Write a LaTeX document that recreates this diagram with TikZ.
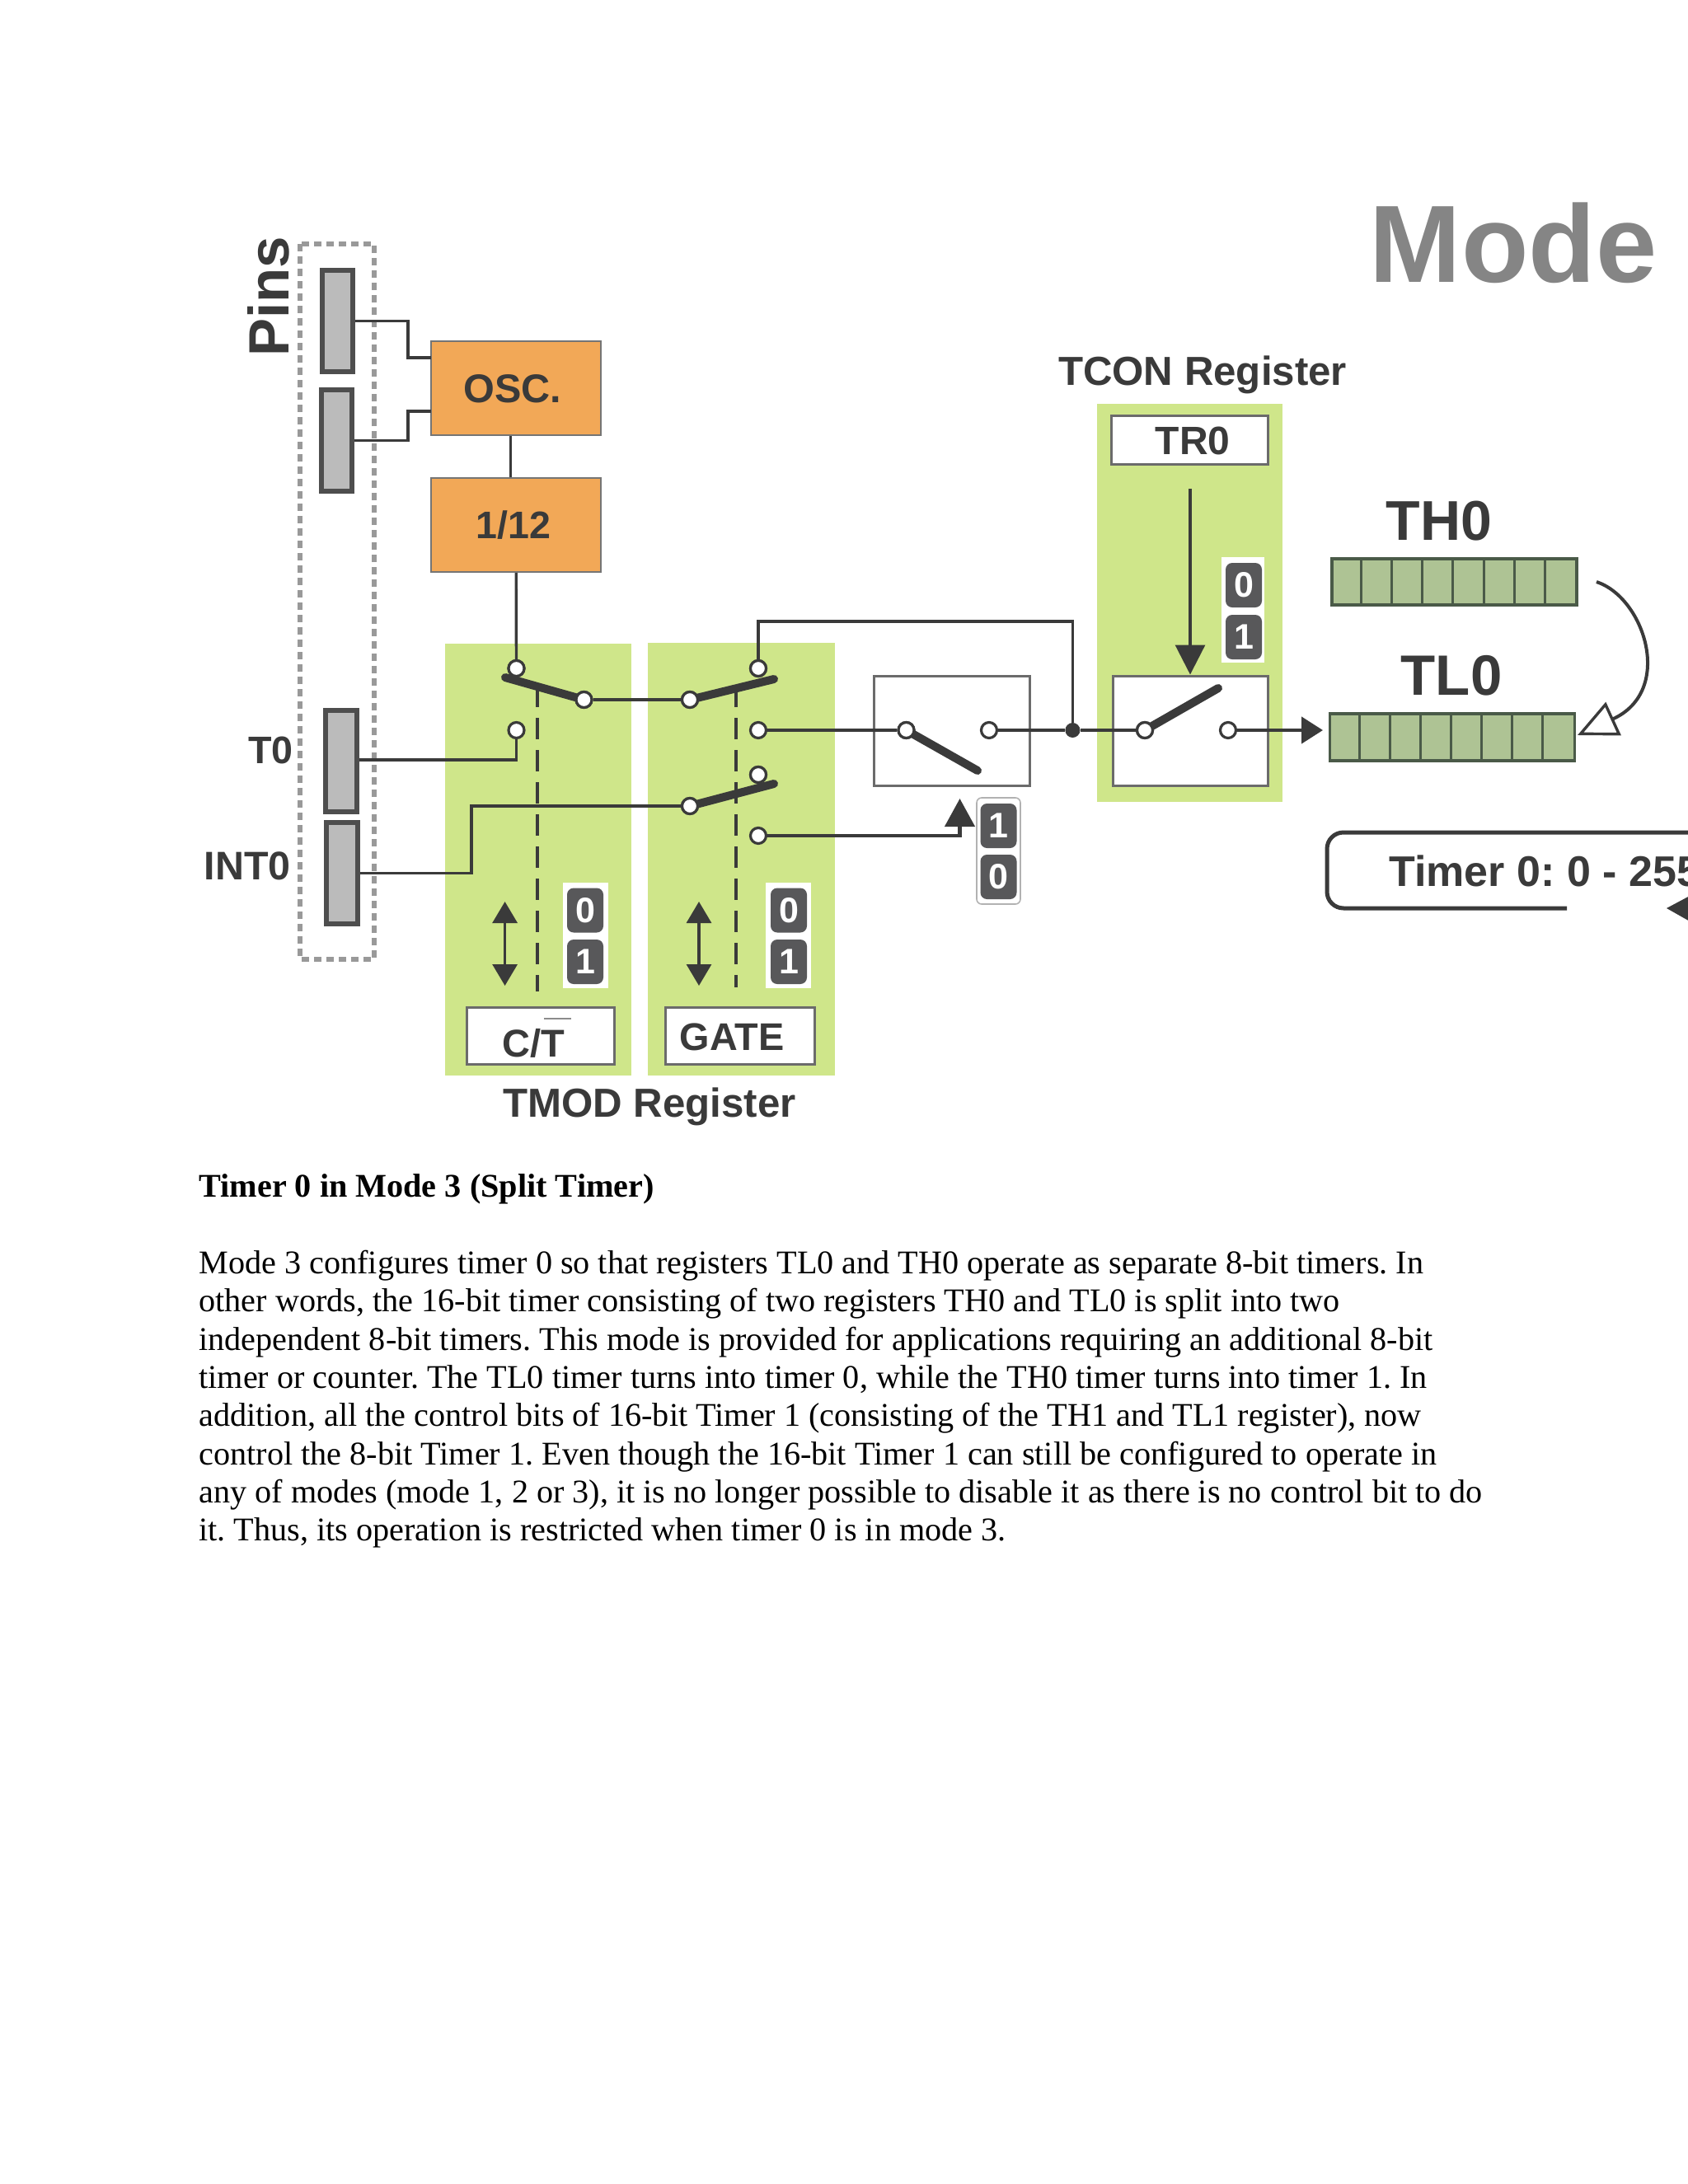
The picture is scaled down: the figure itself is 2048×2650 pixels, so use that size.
\documentclass[tikz,border=0pt]{standalone}
\usepackage{fontspec}
\setmainfont{Liberation Sans}
\newfontfamily\bodyfont{Liberation Serif}
\usetikzlibrary{arrows.meta}
\frenchspacing
\definecolor{ink}{HTML}{3A3A3A}
\definecolor{leaf}{HTML}{CFE68A}
\definecolor{orangebox}{HTML}{F2A857}
\definecolor{pingrey}{HTML}{BBBBBB}
\definecolor{cell}{HTML}{AEC394}
\definecolor{cellline}{HTML}{4A5A48}
\definecolor{badgegrey}{HTML}{58585A}
\newcommand{\pf}[1]{\fontsize{#1pt}{#1pt}\selectfont\bfseries}
\tikzset{
  panel/.style={fill=leaf,draw=none},
  wire/.style={draw=ink,line width=1.7pt},
  pinbox/.style={draw=ink!90,fill=pingrey,line width=2.6pt},
  orangeblock/.style={draw=ink!70,fill=orangebox,line width=1.2pt,inner sep=0pt,text=ink},
  labelbox/.style={draw=ink!75,fill=white,line width=1.5pt},
  swbox/.style={draw=ink!75,fill=white,line width=1.5pt},
  contact/.style={circle,draw=ink,fill=white,line width=1.6pt,inner sep=0pt,minimum size=9.5pt},
  bar/.style={draw=ink,line width=5pt,line cap=round},
  dashline/.style={draw=ink,line width=2.1pt,dash pattern=on 13pt off 6.5pt},
  badge/.style={fill=badgegrey,text=white,rounded corners=4pt,minimum width=22pt,minimum height=27pt,inner sep=0pt,font=\pf{21.5}},
  dbl/.style={draw=ink,line width=1.6pt,{Triangle[length=13pt,width=15pt]}-{Triangle[length=13pt,width=15pt]}},
  lab/.style={inner sep=0pt,text=ink},
  regbox/.style={draw=cellline,fill=cell,line width=1.6pt},
  body/.style={inner sep=0pt,anchor=base west,font=\bodyfont\fontsize{20.1pt}{23pt}\selectfont},
}
\begin{document}
\begin{tikzpicture}[x=0.5pt,y=-0.5pt]
\clip (0,0) rectangle (2048,2650);
\fill[white] (0,0) rectangle (2048,2650);

% panels
\fill[panel] (540,781) rectangle (766,1305);
\fill[panel] (786,780) rectangle (1013,1305);
\fill[panel] (1331,490) rectangle (1556,973);

% pins
\draw[draw=black!40,line width=2.6pt,dash pattern=on 4.5pt off 3pt] (364,296) rectangle (454,1164);
\node[pinbox,minimum width=18.5pt,minimum height=61.5pt,inner sep=0pt] (pinA) at (409.5,389.5) {};
\node[pinbox,minimum width=18.5pt,minimum height=61.5pt,inner sep=0pt] (pinB) at (408.5,534.5) {};
\node[pinbox,minimum width=19pt,minimum height=61.5pt,inner sep=0pt] (pinT) at (414,923.5) {};
\node[pinbox,minimum width=19pt,minimum height=61.5pt,inner sep=0pt] (pinI) at (415,1059.5) {};
\node[lab,anchor=base,rotate=90,font=\pf{34.5}] (pinsl) at (350,360) {Pins};
\node[lab,anchor=east,font=\pf{23.3}] (t0l) at (356,910) {T0};
\node[lab,anchor=east,font=\pf{24.2}] (int0l) at (353,1051) {INT0};

% orange blocks
\node[orangeblock,minimum width=103pt,minimum height=57pt] (osc) at (626.25,471) {};
\node[lab,font=\pf{24.3}] (oscl) at (622,472) {OSC.};
\node[orangeblock,minimum width=103pt,minimum height=57pt] (div) at (626.25,637) {};
\node[lab,font=\pf{23.3}] (divl) at (623,637) {1/12};
\coordinate (oscIn1) at (523,434);
\coordinate (oscIn2) at (523,499);
\coordinate (bendA) at (495,389.5);
\coordinate (bendB) at (495,534.5);
\draw[wire] (pinA.east) -- (bendA) -- (495,434) -- (oscIn1);
\draw[wire] (pinB.east) -- (bendB) -- (495,499) -- (oscIn2);
\draw[wire] ([xshift=-3.5pt]osc.south) -- ([xshift=-3.5pt]div.north);

% contact positions
\coordinate (pA) at (626.5,811);
\coordinate (pB) at (708.5,849);
\coordinate (pC) at (626.5,886);
\coordinate (pD) at (837,849);
\coordinate (pE) at (920,811);
\coordinate (pF) at (920,886);
\coordinate (pG) at (837,978);
\coordinate (pH) at (920,940);
\coordinate (pJ) at (920,1014);

% dashed linkages
\coordinate (dashAtop) at (652,832);
\coordinate (dashAbot) at (652,1203);
\coordinate (dashBtop) at (893,832);
\coordinate (dashBbot) at (893,1198);
\draw[dashline] (dashAtop) -- (dashAbot);
\draw[dashline] (dashBtop) -- (dashBbot);

% switch boxes
\node[swbox,minimum width=94.5pt,minimum height=66.5pt,inner sep=0pt] (swM) at (1154.75,886.5) {};
\node[swbox,minimum width=94pt,minimum height=66.5pt,inner sep=0pt] (swT) at (1444,886.5) {};
\coordinate (pK) at (1099.5,886);
\coordinate (pL) at (1200,886);
\coordinate (pM) at (1389,886);
\coordinate (pN) at (1490,886);
\node[circle,fill=ink,minimum size=9pt,inner sep=0pt] (junc) at (1301.4,886) {};

% contacts
\node[contact] (cA) at (pA) {};
\node[contact] (cB) at (pB) {};
\node[contact] (cC) at (pC) {};
\node[contact] (cD) at (pD) {};
\node[contact] (cE) at (pE) {};
\node[contact] (cF) at (pF) {};
\node[contact] (cG) at (pG) {};
\node[contact] (cH) at (pH) {};
\node[contact] (cJ) at (pJ) {};
\node[contact] (cK) at (pK) {};
\node[contact] (cL) at (pL) {};
\node[contact] (cM) at (pM) {};
\node[contact] (cN) at (pN) {};

% wires
\draw[wire] (div.south) -- (cA);
\draw[wire] (cB) -- (cD);
\draw[wire] (pinT.east) ++(0,-1.5) -- (626.5,922) -- (cC);
\draw[wire] (pinI.east) -- (572,1059.5) -- (572,978) -- (cG);
\draw[wire] (cE) -- (920,754) -- (1301.4,754) -- (junc);
\draw[wire] (cF) -- (cK);
\draw[wire] (cL) -- (junc);
\draw[wire] (junc) -- (cM);
\draw[draw=ink,line width=2.2pt,-{Triangle[length=13pt,width=16pt]}] (cN) -- (1605,886);
\draw[draw=ink,line width=2.2pt,-{Triangle[length=17pt,width=18pt]}] (cJ.east) -- (1164.5,1014) -- (1164.5,969);

% bars, drawn under the white contact faces
\coordinate (barA) at (613,822);
\coordinate (barE) at (939,824);
\coordinate (barH) at (939,951);
\coordinate (barK) at (1186,935);
\coordinate (barM) at (1478,835);
\draw[bar] (barA) -- (cB.center);
\draw[bar] (cD.center) -- (barE);
\draw[bar] (cG.center) -- (barH);
\draw[bar] (cK.center) -- (barK);
\draw[bar] (cM.center) -- (barM);
\foreach \c in {A,B,D,E,G,H,K,M}{\node[contact] at (c\c) {};}

% double arrows
\coordinate (dblAt) at (612.6,1094);
\coordinate (dblAb) at (612.6,1196);
\coordinate (dblBt) at (848,1094);
\coordinate (dblBb) at (848,1196);
\draw[dbl] (dblAt) -- (dblAb);
\draw[dbl] (dblBt) -- (dblBb);

% badges
\node[fill=white,minimum width=27.5pt,minimum height=64pt,inner sep=0pt] (bgA) at (710.5,1135) {};
\node[badge] (b0a) at (710,1104.5) {0};
\node[badge] (b1a) at (710,1167) {1};
\node[fill=white,minimum width=27.5pt,minimum height=64pt,inner sep=0pt] (bgB) at (956.5,1135) {};
\node[badge] (b0b) at (957,1104.5) {0};
\node[badge] (b1b) at (957,1167) {1};
\node[fill=white,minimum width=26pt,minimum height=64pt,inner sep=0pt] (bgC) at (1508,740) {};
\node[badge] (b0c) at (1509,710) {0};
\node[badge] (b1c) at (1509,773) {1};
\node[fill=white,draw=black!30,line width=.8pt,rounded corners=3pt,minimum width=26.5pt,minimum height=64.5pt,inner sep=0pt] (bgD) at (1211.5,1032.5) {};
\node[badge] (b1d) at (1211.5,1002) {1};
\node[badge] (b0d) at (1211.5,1064) {0};

% register labels
\node[labelbox,minimum width=89.5pt,minimum height=34.5pt,inner sep=0pt] (ctbox) at (655.5,1256.5) {};
\node[lab,font=\pf{23.5}] (ctl) at (647,1266) {C/T};
\draw[draw=black!45,line width=.6pt] (660,1236) -- (693,1236);
\node[labelbox,minimum width=90.5pt,minimum height=34.5pt,inner sep=0pt] (gatebox) at (897.5,1256.5) {};
\node[lab,font=\pf{23.4}] (gatel) at (888,1258) {GATE};
\node[lab,anchor=base,font=\pf{24.6}] (tmodl) at (788,1355) {TMOD Register};

\node[lab,anchor=base,font=\pf{24.6}] (tconl) at (1459,467) {TCON Register};
\node[labelbox,minimum width=95pt,minimum height=29.5pt,inner sep=0pt] (trbox) at (1443,533.5) {};
\node[lab,font=\pf{24}] (trl) at (1447,535) {TR0};
\coordinate (trArrowTop) at (1444,593);
\draw[draw=ink,line width=1.6pt,-{Triangle[length=18pt,width=18pt]}] (trArrowTop) -- (swT.north);

% Mode
\node[inner sep=0pt,text=black!48,anchor=base,font=\pf{66.7}] (model) at (1836,342) {Mode};

% registers
\node[regbox,minimum width=148.5pt,minimum height=28pt,inner sep=0pt] (th) at (1764.5,706) {};
\node[regbox,minimum width=148.5pt,minimum height=28.5pt,inner sep=0pt] (tl) at (1762,894.5) {};
\foreach \i in {1,...,7}{
  \draw[draw=cellline,line width=1.5pt] ([xshift=\i*18.56pt]th.north west) -- ([xshift=\i*18.56pt]th.south west);
  \draw[draw=cellline,line width=1.5pt] ([xshift=\i*18.56pt]tl.north west) -- ([xshift=\i*18.56pt]tl.south west);
}
\node[lab,font=\pf{34}] (thl) at (1746,632) {TH0};
\node[lab,font=\pf{34.5}] (tll) at (1761,820) {TL0};
\coordinate (curveStart) at (1937,706);
\coordinate (curveEnd) at (1914,892);
\draw[draw=ink,line width=2pt,-{Triangle[open,fill=white,length=24pt,width=22pt,line width=1.7pt]}] (curveStart) .. controls (1995,725) and (2032,838) .. (curveEnd);

% Timer box
\coordinate (tbEnd) at (1901,1102);
\coordinate (tbRight) at (2070,1010);
\draw[draw=ink,line width=2.5pt,rounded corners=10pt] (tbEnd) -- (1610,1102) -- (1610,1010) -- (tbRight);
\node[lab,anchor=base west,font=\pf{26}] (timerl) at (1685,1075) {Timer 0: 0 - 255};
\fill[ink] (2022,1102) -- (2052,1086) -- (2052,1119) -- cycle;

% body text
\node[body,font=\bodyfont\bfseries\fontsize{20.1pt}{23pt}\selectfont] (title) at (241,1452.5) {Timer 0 in Mode 3 (Split Timer)};
\node[body] (l1) at (241,1545.5) {Mode 3 configures timer 0 so that registers TL0 and TH0 operate as separate 8-bit timers. In};
\node[body] (l2) at (241,1591.8) {other words, the 16-bit timer consisting of two registers TH0 and TL0 is split into two};
\node[body] (l3) at (241,1638.1) {independent 8-bit timers. This mode is provided for applications requiring an additional 8-bit};
\node[body] (l4) at (241,1684.4) {timer or counter. The TL0 timer turns into timer 0, while the TH0 timer turns into timer 1. In};
\node[body] (l5) at (241,1730.7) {addition, all the control bits of 16-bit Timer 1 (consisting of the TH1 and TL1 register), now};
\node[body] (l6) at (241,1777) {control the 8-bit Timer 1. Even though the 16-bit Timer 1 can still be configured to operate in};
\node[body] (l7) at (241,1823.3) {any of modes (mode 1, 2 or 3), it is no longer possible to disable it as there is no control bit to do};
\node[body] (l8) at (241,1869.6) {it. Thus, its operation is restricted when timer 0 is in mode 3.};
\end{tikzpicture}
\end{document}
